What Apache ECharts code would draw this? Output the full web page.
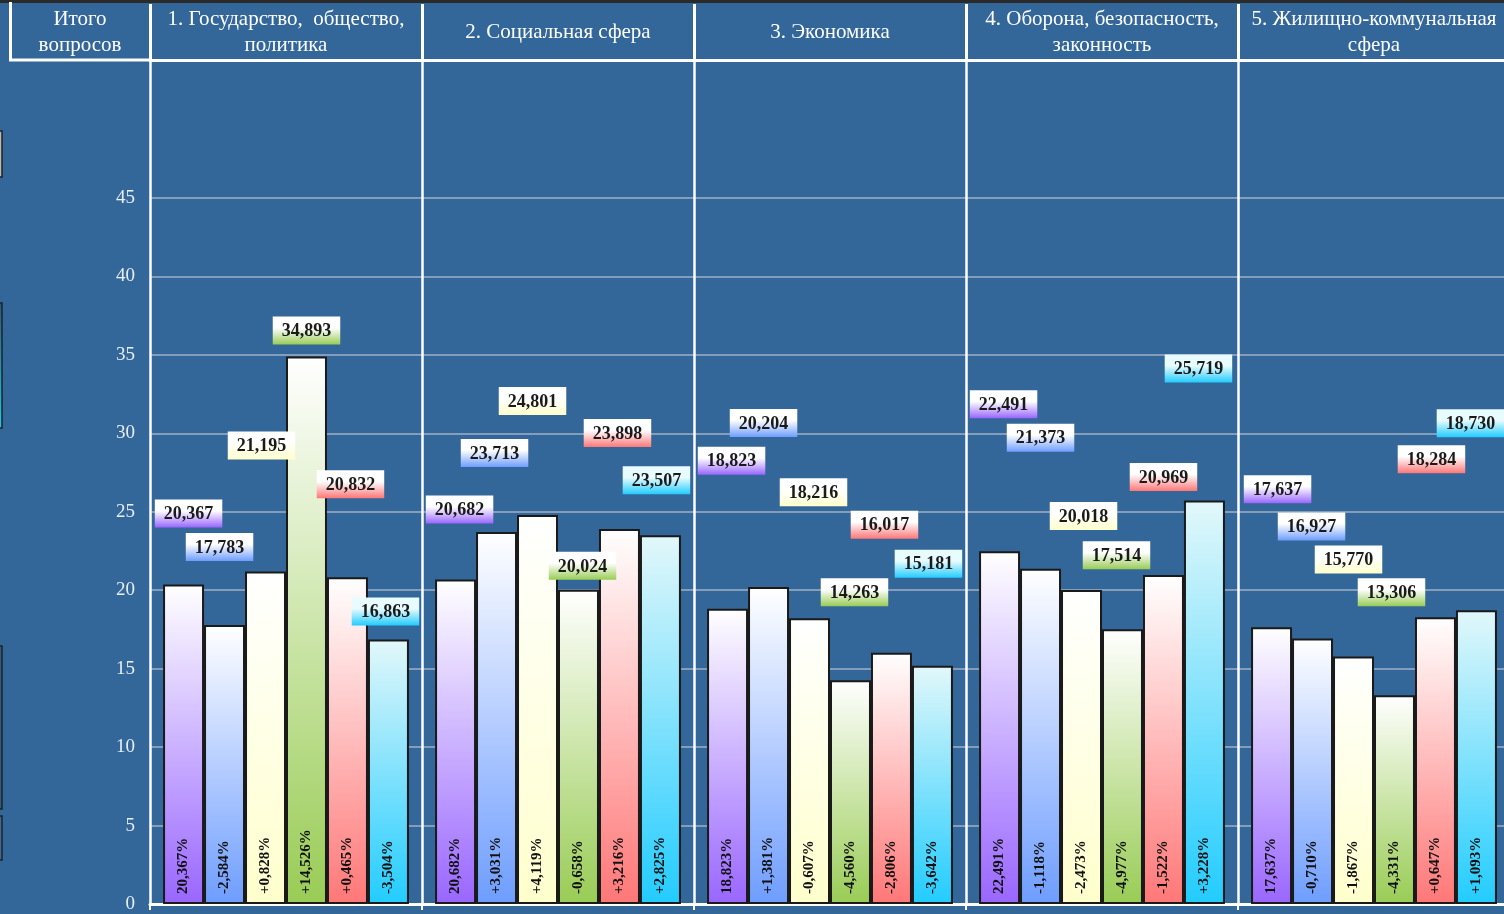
<!DOCTYPE html>
<html>
<head>
<meta charset="utf-8">
<script src="https://cdn.jsdelivr.net/npm/echarts@6/dist/echarts.min.js"></script>
<style>
html,body{margin:0;padding:0;background:#336699;overflow:hidden;width:1504px;height:914px;}
#chart{width:1510px;height:914px;}
</style>
</head>
<body>
<div id="chart"></div>
<script>
// ---- data ----
var categories = [
  '1. Государство,  общество,\nполитика',
  '2. Социальная сфера',
  '3. Экономика',
  '4. Оборона, безопасность,\nзаконность',
  '5. Жилищно-коммунальная\nсфера'
];
var totalLabel = 'Итого\nвопросов';
var yTicks = [0, 5, 10, 15, 20, 25, 30, 35, 40, 45];

var values0 = [20.367, 20.682, 18.823, 22.491, 17.637];
var values1 = [17.783, 23.713, 20.204, 21.373, 16.927];
var values2 = [21.195, 24.801, 18.216, 20.018, 15.770];
var values3 = [34.893, 20.024, 14.263, 17.514, 13.306];
var values4 = [20.832, 23.898, 16.017, 20.969, 18.284];
var values5 = [16.863, 23.507, 15.181, 25.719, 18.730];

var pct0 = [20.367, 20.682, 18.823, 22.491, 17.637];
var pct1 = [-2.584, 3.031, 1.381, -1.118, -0.710];
var pct2 = [0.828, 4.119, -0.607, -2.473, -1.867];
var pct3 = [14.526, -0.658, -4.560, -4.977, -4.331];
var pct4 = [0.465, 3.216, -2.806, -1.522, 0.647];
var pct5 = [-3.504, 2.825, -3.642, 3.228, 1.093];

// ---- styling / layout ----
var allValues = [values0, values1, values2, values3, values4, values5];
var allPct = [pct0, pct1, pct2, pct3, pct4, pct5];
var colors = ['#9966ff', '#6e9dff', '#ffffcc', '#99cc55', '#ff7777', '#22ccff'];
var topColors = ['#ffffff', '#ffffff', '#ffffff', '#ffffff', '#ffffff', '#e2f8fa'];
var labelTop = ['#ffffff', '#ffffff', '#ffffff', '#ffffff', '#ffffff', '#e8fcff'];
// per-label nudges [dx, dy] in px relative to the default "top" placement
var labelNudge = [
  [[5,-52],[4,-51],[4,-129],[4,-128],[6,-119]],
  [[-5,-59],[-2,-60],[-5,-145],[0,-112],[-1,-93]],
  [[-4,-107],[-5,-95],[4,-107],[2,-55],[-5,-78]],
  [[0,-7],[4,-5],[4,-69],[-6,-55],[-3,-84]],
  [[3,-74],[-2,-77],[-7,-109],[0,-79],[-4,-139]],
  [[-3,-9],[-4,-36],[-4,-83],[-6,-113],[-6,-168]]
];

var serif = 'Liberation Serif';
function fmt(v){ return v.toFixed(3).replace('.', ','); }
function grad(c0, c1, mid){
  var stops = [{offset:0, color:c0}];
  if (mid) stops.push({offset:mid, color:c0});
  stops.push({offset:1, color:c1});
  return {type:'linear', x:0, y:0, x2:0, y2:1, colorStops: stops};
}

var series = [];
allValues.forEach(function(vals, s){
  series.push({
    type:'bar', name:'s'+s, stack:'g'+s, xAxisIndex:0, yAxisIndex:0,
    barGap:'0%', barCategoryGap:'9.6%',
    data: vals.map(function(v){ return v; }),
    itemStyle:{ color: grad(topColors[s], colors[s]), borderColor:'#1a1a1a', borderWidth:2 },
    label:{
      show:true, position:'insideBottom', rotate:90, align:'left', verticalAlign:'middle',
      distance:10, fontFamily:serif, fontWeight:'bold', fontSize:15, color:'#111',
      formatter:function(p){
        var v = allPct[s][p.dataIndex];
        return (s === 0 ? '' : (v >= 0 ? '+' : '')) + fmt(v) + '%';
      }
    },
    emphasis:{disabled:true}, animation:false
  });
  series.push({
    type:'bar', name:'t'+s, stack:'g'+s, xAxisIndex:0, yAxisIndex:0,
    barGap:'0%', barCategoryGap:'9.6%',
    data: vals.map(function(v, i){
      return {value:0, label:{offset: labelNudge[s][i]}};
    }),
    itemStyle:{ color:'transparent', borderWidth:0 },
    label:{
      show:true, position:'top', distance:5,
      fontFamily:serif, fontWeight:'bold', fontSize:18, color:'#1a1a1a',
      padding:[5,9,3,9], lineHeight:20,
      backgroundColor: grad(labelTop[s], colors[s], 0.4),
      formatter:function(p){ return fmt(allValues[s][p.dataIndex]); }
    },
    emphasis:{disabled:true}, animation:false
  });
});

var chart = echarts.init(document.getElementById('chart'));
chart.setOption({
  backgroundColor:'#336699',
  animation:false,
  grid:[
    {left:150, top:198, right:0, bottom:10},
    {left:150, top:60, right:0, height:138}
  ],
  xAxis:[
    {
      type:'category', gridIndex:0, data:categories, position:'bottom',
      axisLine:{show:true, onZero:false, lineStyle:{color:'#ffffff', width:3}},
      axisTick:{show:true, length:6, lineStyle:{color:'#ffffff', width:2}},
      axisLabel:{show:false},
      splitLine:{show:true, lineStyle:{color:'#ffffff', width:2.5}}
    },
    {
      type:'category', gridIndex:1, data:categories, position:'top',
      axisLine:{show:true, onZero:false, lineStyle:{color:'#ffffff', width:3}},
      axisTick:{show:true, length:56, lineStyle:{color:'#ffffff', width:3}},
      axisLabel:{
        show:true, interval:0, color:'#ffffff', fontFamily:serif, fontSize:21,
        lineHeight:26, margin:28, verticalAlign:'middle'
      },
      splitLine:{show:true, lineStyle:{color:'#ffffff', width:2.5}}
    }
  ],
  yAxis:[
    {
      type:'value', gridIndex:0, min:yTicks[0], max:yTicks[yTicks.length-1], interval:5,
      axisLine:{show:false}, axisTick:{show:false},
      axisLabel:{color:'#e8eef5', fontFamily:serif, fontSize:19, margin:15},
      splitLine:{show:true, lineStyle:{color:'#9fb0c6', width:1.5}}
    },
    {
      type:'value', gridIndex:1, show:false, splitLine:{show:false}
    }
  ],
  graphic:[
    {type:'rect', shape:{x:0, y:0, width:1510, height:3}, style:{fill:'#2a2a2a'}, z:100},
    {type:'rect', shape:{x:9, y:2, width:3, height:59}, style:{fill:'#ffffff'}, z:100},
    {type:'rect', shape:{x:9, y:58.5, width:142, height:3}, style:{fill:'#ffffff'}, z:100},
    {type:'text', x:80, y:32, style:{text: totalLabel, fill:'#ffffff', font:'21px "Liberation Serif"',
      align:'center', verticalAlign:'middle', lineHeight:26}, z:100},
    {type:'rect', shape:{x:-3, y:131, width:5, height:46}, style:{fill:'#b8b8b8', stroke:'#222', lineWidth:1.5}, z:100},
    {type:'rect', shape:{x:-3, y:303, width:5, height:125}, style:{fill:grad('#2a5878', '#1ec8f0'), stroke:'#222', lineWidth:1.5}, z:100},
    {type:'rect', shape:{x:-3, y:646, width:5, height:163}, style:{fill:'#2d5c7c', stroke:'#222', lineWidth:1.5}, z:100},
    {type:'rect', shape:{x:-3, y:816, width:5, height:44}, style:{fill:'#3a6a96', stroke:'#222', lineWidth:1.5}, z:100}
  ],
  series: series
});
</script>
</body>
</html>
